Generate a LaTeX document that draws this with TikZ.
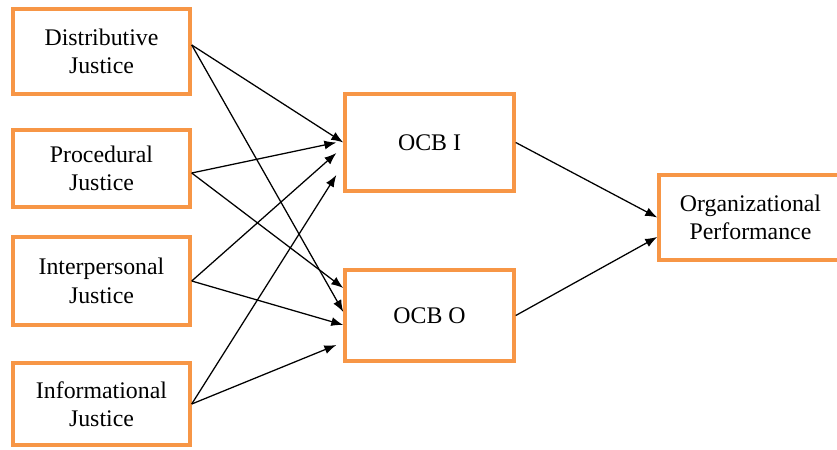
\documentclass[tikz,border=0pt]{standalone}
\usepackage{fontspec}
\setmainfont{Liberation Serif}
\usetikzlibrary{positioning,arrows.meta}
\definecolor{boxorange}{RGB}{247,150,70}

\begin{document}
\begin{tikzpicture}[box/.style={draw=boxorange,line width=3.3pt,fill=white,align=center,inner sep=0pt,font=\fontsize{22.6}{27}\selectfont},
                    arr/.style={-{Latex[length=4mm,width=3mm]},line width=1.2pt}]
              \useasboundingbox (0,0) rectangle (27.9,14.967);

              \node[box,minimum width=5.9cm,minimum height=2.833cm] (dist) at (3.383,13.25) {Distributive\\Justice};
              \node[box,minimum width=5.9cm,minimum height=2.567cm] (proc) at (3.383,9.35) {Procedural\\Justice};
              \node[box,minimum width=5.9cm,minimum height=2.933cm] (inter) at (3.383,5.6) {Interpersonal\\Justice};
              \node[box,minimum width=5.9cm,minimum height=2.733cm] (info) at (3.383,1.5) {Informational\\Justice};

              \node[box,minimum width=5.633cm,minimum height=3.233cm] (ocbi) at (14.317,10.217) {OCB I};
              \node[box,minimum width=5.633cm,minimum height=3.033cm] (ocbo) at (14.317,4.45) {OCB O};

              \node[box,minimum width=6.1cm,minimum height=2.833cm] (perf) at (25.017,7.717) {Organizational\\Performance};

              \draw[arr] ([yshift=0.217cm]dist.east) -- (ocbi.west);
              \draw[arr] ([yshift=0.217cm]dist.east) -- ([yshift=0.117cm]ocbo.west);
              \draw[arr] ([yshift=-0.15cm]proc.east) -- ([xshift=-0.23cm]ocbi.west);
              \draw[arr] ([yshift=-0.15cm]proc.east) -- ([yshift=0.917cm]ocbo.west);
              \draw[arr] (inter.east) -- ([shift={(-0.23,-0.35)}]ocbi.west);
              \draw[arr] (inter.east) -- ([yshift=-0.317cm]ocbo.west);
              \draw[arr] (info.east) -- ([shift={(-0.23,-1.083)}]ocbi.west);
              \draw[arr] (info.east) -- ([shift={(-0.23,-0.983)}]ocbo.west);

              \draw[arr] (ocbi.east) -- (perf.west);
              \draw[arr] (ocbo.east) -- ([yshift=-0.65cm]perf.west);
            \end{tikzpicture}
\end{document}
